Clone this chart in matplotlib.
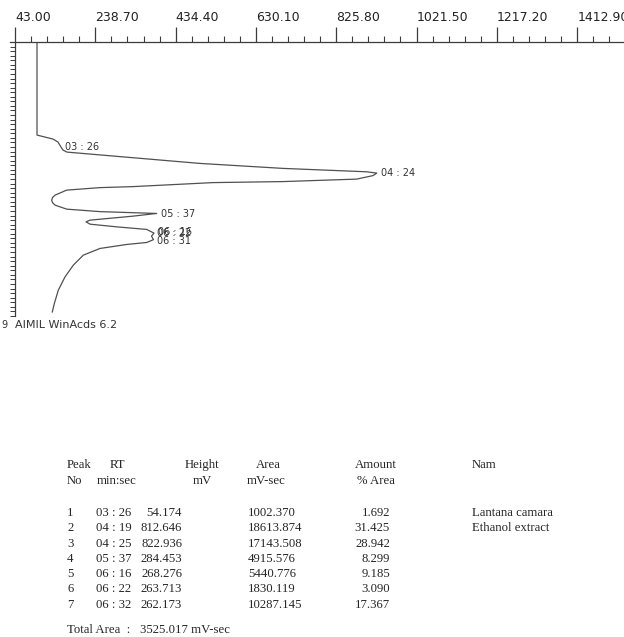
import matplotlib
matplotlib.use('Agg')
import matplotlib.pyplot as plt
from matplotlib.ticker import FixedLocator, FixedFormatter

# chromatogram trace: signal (mV) vs retention time (s), time runs downwards
time_s = [0, 183.4, 191.3, 197.2, 207.1, 213.0, 217.0, 239.3, 249.1, 255.8, 258.4,
          263.3, 270.2, 275.1, 277.1, 285.0, 287.0, 291.9, 301.8, 306.7, 311.6, 316.6,
          321.5, 329.4, 334.3, 337.9, 343.2, 351.1, 354.4, 359.0, 364.3, 369.4, 376.7,
          382.6, 389.5, 395.1, 399.0, 406.9, 420.1, 439.8, 462.9, 489.2, 515.4, 532.0]
signal_mv = [96.6, 96.6, 135.6, 147.8, 155.1, 160.0, 169.7, 493.8, 696.1, 900.1, 924.5,
             915.4, 875.7, 696.1, 525.5, 330.6, 250.1, 169.0, 140.5, 134.4, 132.4, 134.4,
             140.5, 169.0, 250.1, 388.3, 330.6, 225.8, 216.0, 225.8, 290.8, 364.0, 381.7,
             375.6, 380.5, 364.0, 315.2, 250.1, 209.4, 185.1, 164.9, 148.5, 138.8, 133.9]

# peak labels printed next to the trace (06:16 and 06:22 are overprinted in the scan)
label_text = ['03 : 26', '04 : 24', '05 : 37', '06 : 16', '06 : 22', '06 : 31']
label_time = [207, 259, 338, 375, 377, 392]
label_mv = [155, 924, 388, 382, 380, 380]

# top ruler
ruler_start = 43.00
ruler_step = 195.70
ruler_labels = ['43.00', '238.70', '434.40', '630.10', '825.80', '1021.50', '1217.20', '1412.90']

# report table
peak_no = ['1', '2', '3', '4', '5', '6', '7']
rt = ['03 : 26', '04 : 19', '04 : 25', '05 : 37', '06 : 16', '06 : 22', '06 : 32']
height = ['54.174', '812.646', '822.936', '284.453', '268.276', '263.713', '262.173']
area = ['1002.370', '18613.874', '17143.508', '4915.576', '5440.776', '1830.119', '10287.145']
amount = ['1.692', '31.425', '28.942', '8.299', '9.185', '3.090', '17.367']
names = ['Lantana camara', 'Ethanol extract', '', '', '', '', '']
total_area = 'Total Area  :   3525.017 mV-sec'

W, H = 624, 637
ink = '#3c3c3c'
fig = plt.figure(figsize=(W / 100, H / 100), dpi=100)

ax = fig.add_axes([10 / W, 1 - 316 / H, 614 / W, 274 / H])
ax.plot(signal_mv, time_s, color='#505050', lw=0.9)
ax.set_xlim(30.8, 1527)
ax.set_ylim(540, 0)

for s in ['right', 'bottom']:
    ax.spines[s].set_visible(False)
ax.spines['left'].set_position(('data', ruler_start))
for s in ['left', 'top']:
    ax.spines[s].set_color(ink)
    ax.spines[s].set_linewidth(0.9)

majors = [ruler_start + ruler_step * i for i in range(len(ruler_labels))]
minors = [ruler_start + ruler_step / 5 * i for i in range(40) if i % 5]
ax.xaxis.tick_top()
ax.xaxis.set_major_locator(FixedLocator(majors))
ax.xaxis.set_major_formatter(FixedFormatter(ruler_labels))
ax.xaxis.set_minor_locator(FixedLocator(minors))
ax.tick_params(axis='x', which='major', direction='out', length=10.8, width=0.9,
               color=ink, pad=2, labelsize=9, labelcolor='#222222')
ax.tick_params(axis='x', which='minor', direction='out', length=4.3, width=0.8, color=ink)
plt.setp(ax.get_xticklabels(), ha='left')

ax.yaxis.set_major_locator(FixedLocator(list(range(0, 541, 9))))
ax.set_yticklabels([])
ax.tick_params(axis='y', direction='out', length=3.6, width=0.7, color=ink)

for txt, t, v in zip(label_text, label_time, label_mv):
    ax.annotate(txt, (v, t), xytext=(3, 0), textcoords='offset points',
                va='center', ha='left', fontsize=7, color='#333333')

fig.text(1 / W, 1 - 325 / H, '9', fontsize=7, va='center', color='#333333')
fig.text(15 / W, 1 - 325 / H, 'AIMIL WinAcds 6.2', fontsize=8, va='center', color='#333333')

# table
serif = dict(family='Liberation Serif', fontsize=9.2, color='#262626', va='center')

def put(x, y, s, **kw):
    fig.text(x / W, 1 - y / H, s, **serif, **kw)

put(67, 465, 'Peak')
put(67, 481, 'No')
put(117, 465, 'RT', ha='center')
put(117, 481, 'min:sec', ha='center')
put(202, 465, 'Height', ha='center')
put(202, 481, 'mV', ha='center')
put(268, 465, 'Area', ha='center')
put(266, 481, 'mV-sec', ha='center')
put(376, 465, 'Amount', ha='center')
put(376, 481, '% Area', ha='center')
put(472, 465, 'Nam')

for i in range(len(peak_no)):
    y = 513 + 15.3 * i
    put(67, y, peak_no[i])
    put(96, y, rt[i])
    put(182, y, height[i], ha='right')
    put(248, y, area[i])
    put(390, y, amount[i], ha='right')
    put(472, y, names[i])

put(67, 630, total_area)

fig.savefig('out.png', dpi=100, facecolor='white')
